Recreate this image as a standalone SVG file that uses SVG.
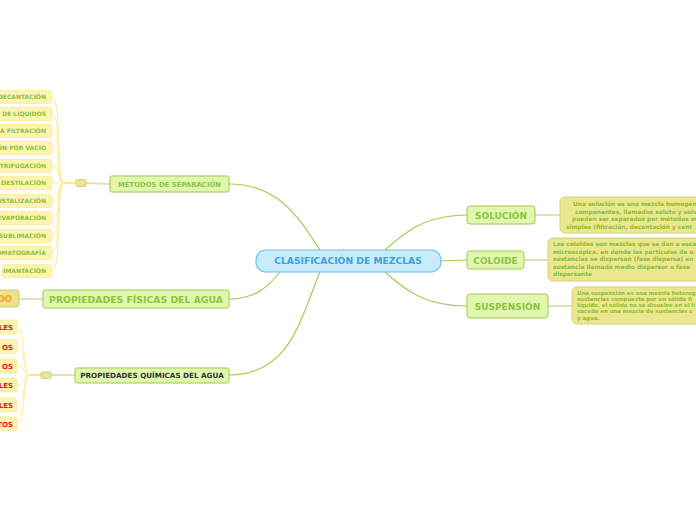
<svg xmlns="http://www.w3.org/2000/svg" width="696" height="520" viewBox="0 0 696 520">
<style>
text{font-family:"DejaVu Sans","Liberation Sans",sans-serif;font-weight:bold}
.conn{fill:none;stroke:#a5cc55;stroke-width:1.2}
.soft{fill:none;stroke:#e2dfb8;stroke-width:2}
.leafc{fill:none;stroke:#fbeea0;stroke-width:1}
.topic{fill:#e1f7b0;stroke:#9fcb4c;stroke-width:1}
.tt{fill:#8cc43c;text-anchor:middle}
.note{fill:#ebe690;stroke:#d6d07a;stroke-width:1}
.nt{fill:#8cbf2f}
.leaf{fill:#fcf4b0;stroke:#f7eb96;stroke-width:0.8}
.lt{fill:#8cbf3c;font-size:6px;text-anchor:end}
.rt{fill:#ee1111;font-size:7px;text-anchor:end}
.box{fill:#e8e49c;stroke:#c9c46c;stroke-width:0.8}
</style>
<rect width="696" height="520" fill="#ffffff"/>
<g id="connectors">
<path class="conn" d="M320,250 C300,220 280,184 229,184"/>
<path class="conn" d="M280,272 C268,287 255,299 229,299"/>
<path class="conn" d="M320,272 C300,320 290,375 229,375"/>
<path class="conn" d="M385,250 C405,232 425,215 467,215"/>
<path class="conn" d="M441,261 L467,260"/>
<path class="conn" d="M385,272 C405,290 425,306 467,306"/>
<path class="soft" d="M535,215 L560,215"/>
<path class="soft" d="M524,260 L548,260"/>
<path class="soft" d="M548,306 L572,306"/>
<path class="soft" d="M86,183 L110,184"/>
<path class="soft" d="M19,299 L43,299"/>
<path class="soft" d="M51,375 L75,375"/>
<path fill="none" stroke="#fde978" stroke-width="2" d="M64,183 L76,183"/>
<path fill="none" stroke="#fde978" stroke-width="2" d="M30,375 L41,375"/>
<g class="leafc">
<path d="M64,183 C56,183 62,97 52,97"/>
<path d="M64,183 C56,183 62,114 52,114"/>
<path d="M64,183 C56,183 62,131 52,131"/>
<path d="M64,183 C56,183 62,148 52,148"/>
<path d="M64,183 C56,183 62,166 52,166"/>
<path d="M64,183 C56,183 60,183 52,183"/>
<path d="M64,183 C56,183 62,201 52,201"/>
<path d="M64,183 C56,183 62,218 52,218"/>
<path d="M64,183 C56,183 62,236 52,236"/>
<path d="M64,183 C56,183 62,253 52,253"/>
<path d="M64,183 C56,183 62,271 52,271"/>
<path d="M30,375 C22,375 26,327 17,327"/>
<path d="M30,375 C22,375 26,346 17,346"/>
<path d="M30,375 C22,375 26,366 17,366"/>
<path d="M30,375 C22,375 26,385 17,385"/>
<path d="M30,375 C22,375 26,405 17,405"/>
<path d="M30,375 C22,375 26,424 17,424"/>
</g>
</g>
<g id="center">
<rect x="256" y="250" width="185" height="22" rx="10" fill="#c8ecfc" stroke="#6cc0ea" stroke-width="1.2"/>
<text x="348" y="264.3" font-size="9.2" fill="#3aa2da" text-anchor="middle">CLASIFICACIÓN DE MEZCLAS</text>
</g>
<g id="solucion">
<rect class="topic" x="467" y="206" width="68" height="18" rx="3"/>
<text class="tt" x="501" y="218.5" font-size="9">SOLUCIÓN</text>
</g>
<g id="coloide">
<rect class="topic" x="467" y="251" width="57" height="18" rx="3"/>
<text class="tt" x="495.5" y="263.5" font-size="9">COLOIDE</text>
</g>
<g id="suspension">
<rect class="topic" x="467" y="294" width="81" height="24" rx="3"/>
<text class="tt" x="507.5" y="309.5" font-size="9">SUSPENSIÓN</text>
</g>
<g id="nota-solucion">
<rect class="note" x="560" y="197" width="150" height="36" rx="5"/>
<text class="nt" font-size="5.85"><tspan x="573" y="206">Una solución es una mezcla homogén</tspan><tspan x="575" y="213.5">componentes, llamados soluto y solv</tspan><tspan x="572" y="221">pueden ser separados por métodos m</tspan><tspan x="566" y="228.5">simples (filtración, decantación y cent</tspan></text>
</g>
<g id="nota-coloide">
<rect class="note" x="548" y="238" width="160" height="43" rx="5"/>
<text class="nt" font-size="5.85"><tspan x="553" y="246">Los coloides son mezclas que se dan a esca</tspan><tspan x="553" y="253.5">microscópica, en donde las partículas de u</tspan><tspan x="553" y="261">sustancias se dispersan (fase dispersa) en</tspan><tspan x="553" y="268.5">sustancia llamada medio dispersor o fase</tspan><tspan x="553" y="276">dispersante</tspan></text>
</g>
<g id="nota-suspension">
<rect class="note" x="572" y="287" width="140" height="37" rx="5"/>
<text class="nt" font-size="5.4"><tspan x="577" y="294.5">Una suspensión es una mezcla heterog</tspan><tspan x="577" y="300.5">sustancias compuesta por un sólido fi</tspan><tspan x="577" y="306.5">líquido, el sólido no se disuelve en el lí</tspan><tspan x="577" y="312.5">sucede en una mezcla de sustancias c</tspan><tspan x="577" y="319.5">y agua.</tspan></text>
</g>
<g id="metodos">
<rect class="topic" x="110" y="176" width="119" height="16" rx="2"/>
<text class="tt" x="169.5" y="186.5" font-size="6.9">MÉTODOS DE SEPARACIÓN</text>
</g>
<g id="metodos-box"><rect class="box" x="76" y="179.5" width="10" height="7" rx="1.5"/></g>
<g id="fisicas">
<rect class="topic" x="43" y="290" width="186" height="18" rx="2"/>
<text class="tt" x="136" y="302.7" font-size="9.3">PROPIEDADES FÍSICAS DEL AGUA</text>
</g>
<g id="quimicas">
<rect class="topic" x="75" y="368" width="154" height="15" rx="2"/>
<text x="152" y="378.2" font-size="7.2" fill="#333333" text-anchor="middle">PROPIEDADES QUÍMICAS DEL AGUA</text>
</g>
<g id="quimicas-box"><rect class="box" x="41" y="372" width="10" height="6.5" rx="1.5"/></g>
<g id="do">
<rect x="-20" y="290" width="39" height="17" rx="3" fill="#ece38c" stroke="#d2c766" stroke-width="1"/>
<text x="12" y="302" font-size="8.5" fill="#f5a21c" text-anchor="end">DO</text>
</g>
<g id="leaf-decantacion"><rect class="leaf" x="-10" y="90.5" width="62" height="13" rx="2.5"/><text class="lt" x="46" y="99.2">DECANTACIÓN</text></g>
<g id="leaf-liquidos"><rect class="leaf" x="-10" y="107.5" width="62" height="13" rx="2.5"/><text class="lt" x="46" y="116.2">N DE LÍQUIDOS</text></g>
<g id="leaf-filtracion"><rect class="leaf" x="-10" y="124.5" width="62" height="13" rx="2.5"/><text class="lt" x="46" y="133.2">LA FILTRACIÓN</text></g>
<g id="leaf-vacio"><rect class="leaf" x="-10" y="141.5" width="62" height="13" rx="2.5"/><text class="lt" x="46" y="150.2">IÓN POR VACIO</text></g>
<g id="leaf-centrifugacion"><rect class="leaf" x="-10" y="159.5" width="62" height="13" rx="2.5"/><text class="lt" x="46" y="168.2">NTRIFUGACIÓN</text></g>
<g id="leaf-destilacion"><rect class="leaf" x="-10" y="176.5" width="62" height="13" rx="2.5"/><text class="lt" x="46" y="185.2">DESTILACIÓN</text></g>
<g id="leaf-cristalizacion"><rect class="leaf" x="-10" y="194.5" width="62" height="13" rx="2.5"/><text class="lt" x="46" y="203.2">RISTALIZACIÓN</text></g>
<g id="leaf-evaporacion"><rect class="leaf" x="-10" y="211.5" width="62" height="13" rx="2.5"/><text class="lt" x="46" y="220.2">EVAPORACIÓN</text></g>
<g id="leaf-sublimacion"><rect class="leaf" x="-10" y="229.5" width="62" height="13" rx="2.5"/><text class="lt" x="46" y="238.2">SUBLIMACIÓN</text></g>
<g id="leaf-cromatografia"><rect class="leaf" x="-10" y="246.5" width="62" height="13" rx="2.5"/><text class="lt" x="46" y="255.2">OMATOGRAFÍA</text></g>
<g id="leaf-imantacion"><rect class="leaf" x="2" y="264.5" width="50" height="13" rx="2.5"/><text class="lt" x="46" y="273.2">IMANTACIÓN</text></g>
<g id="q1"><rect class="leaf" x="-10" y="320" width="27" height="14" rx="2.5"/><text class="rt" x="13" y="330">LES</text></g>
<g id="q2"><rect class="leaf" x="-10" y="339.5" width="27" height="14" rx="2.5"/><text class="rt" x="13" y="349.5">OS</text></g>
<g id="q3"><rect class="leaf" x="-10" y="359" width="27" height="14" rx="2.5"/><text class="rt" x="13" y="369">OS</text></g>
<g id="q4"><rect class="leaf" x="-10" y="378" width="27" height="14" rx="2.5"/><text class="rt" x="13" y="388">LES</text></g>
<g id="q5"><rect class="leaf" x="-10" y="398" width="27" height="14" rx="2.5"/><text class="rt" x="13" y="408">LES</text></g>
<g id="q6"><rect class="leaf" x="-10" y="417" width="27" height="14" rx="2.5"/><text class="rt" x="13" y="427">TOS</text></g>
</svg>
